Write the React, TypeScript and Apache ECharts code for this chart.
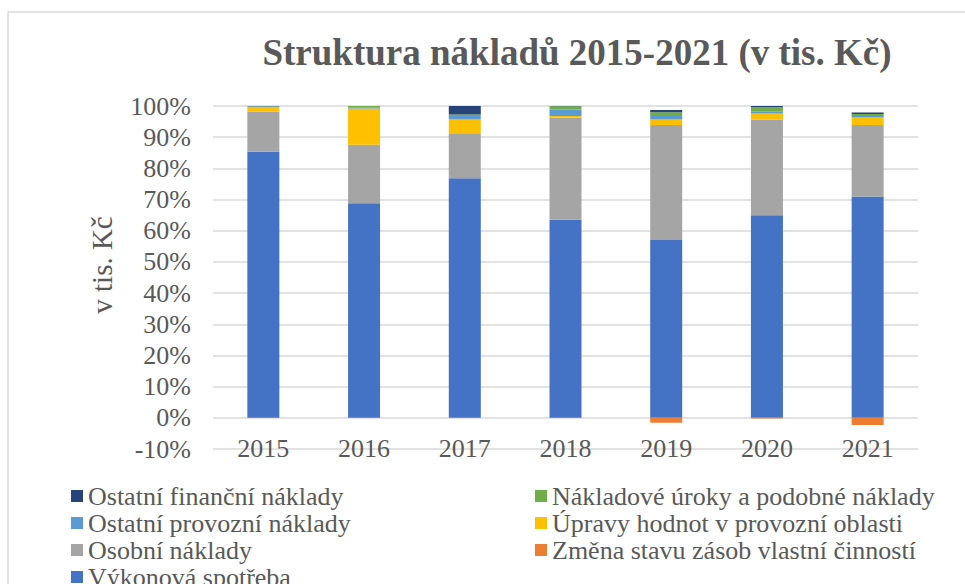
import React, { useEffect, useRef } from "react";
import * as echarts from "echarts";

const years = ["2015", "2016", "2017", "2018", "2019", "2020", "2021"];
const vykonovaSpotreba = [85.3, 68.8, 76.8, 63.5, 57.0, 65.0, 71.0];
const zmenaStavuZasob = [0, 0, 0, 0, -1.6, -0.2, -2.3];
const osobniNaklady = [12.9, 18.8, 14.5, 32.7, 36.9, 30.7, 22.9];
const upravyHodnot = [1.5, 11.6, 4.4, 0.6, 1.8, 1.9, 2.4];
const ostatniProvozni = [0.1, 0.2, 1.1, 2.1, 1.1, 0.7, 0.5];
const nakladoveUroky = [0.1, 0.6, 0.5, 1.0, 1.2, 1.4, 0.6];
const ostatniFinancni = [0.2, 0.1, 2.7, 0.1, 0.7, 0.3, 0.5];
const yTicks = { min: -10, max: 100, interval: 10 };

const seriesDefs = [
  { name: "Výkonová spotřeba", data: vykonovaSpotreba, color: "#4472C4" },
  { name: "Změna stavu zásob vlastní činností", data: zmenaStavuZasob, color: "#ED7D31" },
  { name: "Osobní náklady", data: osobniNaklady, color: "#A5A5A5" },
  { name: "Úpravy hodnot v provozní oblasti", data: upravyHodnot, color: "#FFC000" },
  { name: "Ostatní provozní náklady", data: ostatniProvozni, color: "#5B9BD5" },
  { name: "Nákladové úroky a podobné náklady", data: nakladoveUroky, color: "#70AD47" },
  { name: "Ostatní finanční náklady", data: ostatniFinancni, color: "#264478" },
];

const FONT = "'Liberation Serif', 'Times New Roman', serif";
const TXT = "#595959";

export default function App() {
  const ref = useRef<HTMLDivElement>(null);
  useEffect(() => {
    if (!ref.current) return;
    const chart = echarts.init(ref.current, null, { renderer: "svg" });
    const legendText = { fontFamily: FONT, fontSize: 26, color: TXT, lineHeight: 25 };
    const legendBase = {
      orient: "vertical",
      top: 478,
      height: 200,
      itemGap: 1,
      itemWidth: 12,
      itemHeight: 12,
      icon: "rect",
      textStyle: legendText,
    };
    chart.setOption({
      animation: false,
      textStyle: { fontFamily: FONT },
      graphic: [
        {
          type: "rect",
          shape: { x: 8, y: 12, width: 1000, height: 620 },
          style: { fill: "none", stroke: "#d9d9d9", lineWidth: 1.5 },
          silent: true,
        },
        {
          type: "text",
          x: 577,
          y: 52,
          style: {
            text: "Struktura nákladů 2015-2021 (v tis. Kč)",
            font: `bold 37px ${FONT}`,
            fill: TXT,
            align: "center",
            verticalAlign: "middle",
          },
        },
        {
          type: "text",
          x: 102,
          y: 265,
          rotation: Math.PI / 2,
          style: {
            text: "v tis. Kč",
            font: `29px ${FONT}`,
            fill: TXT,
            align: "center",
            verticalAlign: "middle",
          },
        },
      ],
      grid: { left: 213, right: 47, top: 106, bottom: 135, containLabel: false },
      legend: [
        {
          ...legendBase,
          left: 66,
          data: [
            "Ostatní finanční náklady",
            "Ostatní provozní náklady",
            "Osobní náklady",
            "Výkonová spotřeba",
          ],
        },
        {
          ...legendBase,
          left: 530,
          data: [
            "Nákladové úroky a podobné náklady",
            "Úpravy hodnot v provozní oblasti",
            "Změna stavu zásob vlastní činností",
          ],
        },
      ],
      xAxis: {
        type: "category",
        data: years,
        position: "bottom",
        axisLine: { show: false },
        axisTick: { show: false },
        axisLabel: { fontFamily: FONT, fontSize: 26, color: TXT, margin: -14 },
      },
      yAxis: {
        type: "value",
        min: yTicks.min,
        max: yTicks.max,
        interval: yTicks.interval,
        axisLine: { show: false },
        axisTick: { show: false },
        axisLabel: {
          fontFamily: FONT,
          fontSize: 26,
          color: TXT,
          margin: 22,
          formatter: "{value}%",
        },
        splitLine: { lineStyle: { color: "#d9d9d9", width: 1.5 } },
      },
      series: seriesDefs.map((s) => ({
        name: s.name,
        type: "bar",
        stack: "total",
        barWidth: 32,
        data: s.data,
        itemStyle: { color: s.color },
      })),
    });
    return () => chart.dispose();
  }, []);
  return (
    <div
      ref={ref}
      style={{ position: "fixed", left: 0, top: 0, width: 965, height: 584, background: "#fff" }}
    />
  );
}
